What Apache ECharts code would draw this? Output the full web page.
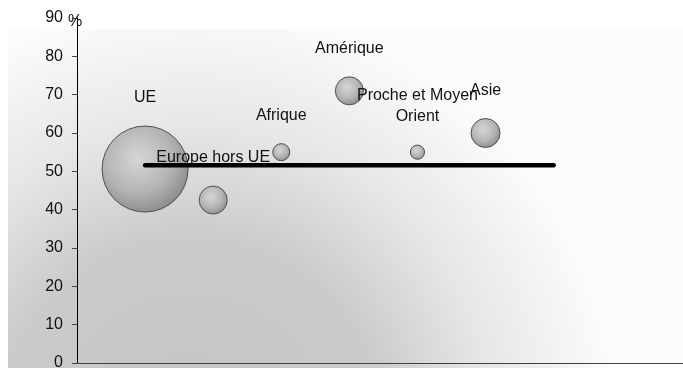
<!DOCTYPE html>
<html>
<head>
<meta charset="utf-8">
<script src="https://cdn.jsdelivr.net/npm/echarts@6/dist/echarts.min.js"></script>
<style>
	html, body { margin: 0; padding: 0; background: #fff; }
	#chart-div { width: 683px; height: 368px; }
</style>
</head>
<body>
<div id="chart-div"></div>
<script>
// zones, position x, taux (%) et poids des bulles
var g_zones = ["UE", "Europe hors UE", "Afrique", "Amérique",
	       "Proche et Moyen\nOrient", "Asie"];
var g_pos_x = [1, 2, 3, 4, 5, 6];
var g_taux = [50.6, 42.5, 55.0, 71.0, 55.0, 60.0];
var g_poids = [66, 7, 2.6, 7, 1.8, 7.5];

// ligne de moyenne
var g_moyenne_x = [1, 7];
var g_moyenne_y = [51.6, 51.6];

var g_ticks_y = [0, 10, 20, 30, 40, 50, 60, 70, 80, 90];
var g_unite = "%";

var g_font = "Liberation Sans, Arial, sans-serif";

var g_chart = echarts.init(document.getElementById("chart-div"));

// bulles : dégradé radial gris
var bulle_fill = new echarts.graphic.RadialGradient(0.42, 0.38, 0.65, [
	{ offset: 0, color: "#d6d6d6" },
	{ offset: 0.6, color: "#b4b4b4" },
	{ offset: 1, color: "#8a8a8a" }
]);

var option = {
	animation: false,
	graphic: [{
		type: "rect",
		z: -10,
		silent: true,
		shape: { x: 8, y: 29, width: 675, height: 339 },
		style: {
			fill: new echarts.graphic.RadialGradient(190, 430, 430, [
				{ offset: 0, color: "#c4c4c4" },
				{ offset: 0.45, color: "#cbcbcb" },
				{ offset: 0.7, color: "#e6e6e6" },
				{ offset: 1, color: "#fcfcfc" }
			], true)
		}
	}, {
		// unité de l'axe, posée sur le haut de l'axe
		type: "text",
		z: 10,
		silent: true,
		x: 75,
		y: 22,
		style: {
			text: g_unite,
			fontFamily: g_font,
			fontSize: 16,
			fill: "#111",
			align: "center",
			verticalAlign: "middle"
		}
	}],
	grid: {
		left: 77,
		right: 0,
		top: 18,
		bottom: 5,
		outerBoundsMode: "none",
		containLabel: false
	},
	xAxis: {
		type: "value",
		min: 0,
		max: 8.9,
		axisLine: { show: true, lineStyle: { color: "#404040", width: 1 } },
		axisTick: { show: false },
		axisLabel: { show: false },
		splitLine: { show: false }
	},
	yAxis: {
		type: "value",
		min: 0,
		max: 90,
		interval: 10,
		axisLine: { show: true, lineStyle: { color: "#000", width: 1 } },
		axisTick: { show: true, length: 5, lineStyle: { color: "#444" } },
		axisLabel: {
			margin: 14,
			fontFamily: g_font,
			fontSize: 16,
			color: "#111",
			formatter: v => g_ticks_y.indexOf(v) >= 0 ? String(v) : ""
		},
		splitLine: { show: false }
	},
	series: [{
		type: "scatter",
		z: 2,
		data: Array.from(g_zones, (v, i) => ({
			name: v,
			value: [g_pos_x[i], g_taux[i], g_poids[i]]
		})),
		symbolSize: v => 86 * Math.sqrt(v[2] / g_poids[0]),
		itemStyle: {
			color: bulle_fill,
			borderColor: "#505050",
			borderWidth: 1,
			opacity: 1
		},
		label: {
			show: true,
			position: "top",
			distance: 17,
			formatter: p => p.name,
			fontFamily: g_font,
			fontSize: 16,
			lineHeight: 21,
			color: "#111",
			align: "center"
		}
	}, {
		type: "line",
		z: 3,
		data: Array.from(g_moyenne_x, (v, i) => [v, g_moyenne_y[i]]),
		symbol: "none",
		lineStyle: { color: "#000", width: 4.5, cap: "round" }
	}]
};

g_chart.setOption(option);
window.addEventListener("resize", g_chart.resize);
</script>
</body>
</html>
